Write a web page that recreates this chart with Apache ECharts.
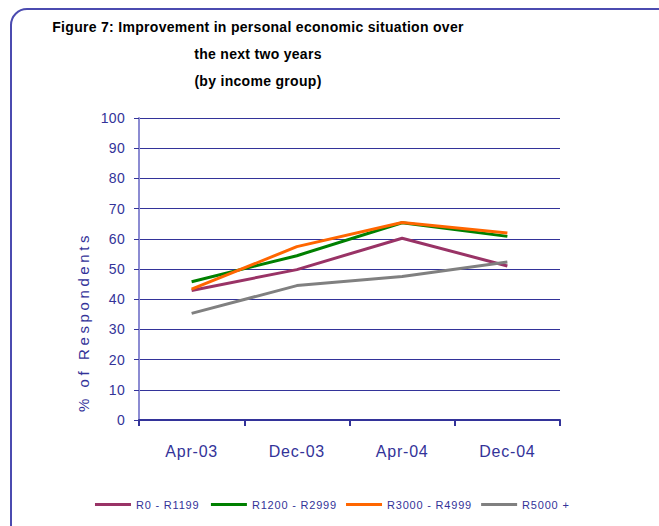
<!DOCTYPE html>
<html>
<head>
<meta charset="utf-8">
<script src="https://cdn.jsdelivr.net/npm/echarts@6/dist/echarts.min.js"></script>
<style>
  html, body { margin: 0; padding: 0; background: #fff; }
  #chart { width: 659px; height: 526px; }
  /* tracking per text size: axis name, category labels, value labels/title, legend */
  #chart text[style*="15px"] { letter-spacing: 3.6px; }
  #chart text[style*="16px"] { letter-spacing: 0.8px; }
  #chart text[style*="14px"] { letter-spacing: 0.3px; }
  #chart text[style*="11px"] { letter-spacing: 0.8px; }
</style>
</head>
<body>
<div id="chart"></div>
<script>
// Survey periods and share of respondents expecting improvement, by income group
const periods = ['Apr-03', 'Dec-03', 'Apr-04', 'Dec-04'];
const groupNames = ['R0 - R1199', 'R1200 - R2999', 'R3000 - R4999', 'R5000 +'];
const lowIncome = [42.9, 49.8, 60.2, 51.0];
const lowerMiddle = [45.8, 54.4, 65.3, 60.8];
const upperMiddle = [43.3, 57.4, 65.4, 61.9];
const highIncome = [35.3, 44.5, 47.5, 52.3];
const yTicks = [0, 10, 20, 30, 40, 50, 60, 70, 80, 90, 100];

const seriesValues = [lowIncome, lowerMiddle, upperMiddle, highIncome];
const seriesColors = ['#993366', '#008000', '#ff6600', '#808080'];
const ink = '#333399';
const font = '"Liberation Sans", Arial, sans-serif';

const chart = echarts.init(document.getElementById('chart'), null, { renderer: 'svg' });

chart.setOption({
  animation: false,
  backgroundColor: '#fff',
  graphic: [{
    type: 'rect',
    shape: { x: 11, y: 9, width: 720, height: 560, r: 16 },
    style: { fill: 'none', stroke: '#4b4bb0', lineWidth: 2 },
    z: -1
  }],
  title: {
    text: 'Figure 7: Improvement in personal economic situation over\nthe next two years\n(by income group)',
    left: 253,
    textAlign: 'center',
    top: 8,
    textStyle: {
      fontFamily: font,
      fontWeight: 'bold',
      fontSize: 14,
      color: '#000',
      lineHeight: 27
    }
  },
  legend: {
    bottom: 11,
    left: 'center',
    icon: 'rect',
    itemWidth: 36,
    itemHeight: 3,
    itemGap: 19.5,
    textStyle: { fontFamily: font, fontSize: 11, color: ink },
    data: groupNames
  },
  grid: { left: 139, right: 99, top: 118, bottom: 106 },
  xAxis: {
    type: 'category',
    data: periods,
    boundaryGap: true,
    axisLine: { lineStyle: { color: ink, width: 2 } },
    axisTick: { show: true, alignWithLabel: false, length: 6, lineStyle: { color: ink, width: 2 } },
    axisLabel: { fontFamily: font, fontSize: 16, color: ink, margin: 23 }
  },
  yAxis: {
    type: 'value',
    min: 0,
    max: 100,
    interval: 10,
    name: '% of Respondents',
    nameLocation: 'middle',
    nameGap: 40,
    nameRotate: 90,
    nameTextStyle: { fontFamily: font, fontSize: 15, color: ink, padding: [0, 106, 0, 0] },
    axisLine: { show: true, lineStyle: { color: '#8c8cd2', width: 2 } },
    axisTick: { show: true, length: 5, lineStyle: { color: ink } },
    splitLine: { lineStyle: { color: ink, width: 1 } },
    axisLabel: {
      fontFamily: font, fontSize: 14, color: ink, margin: 14,
      formatter: v => yTicks.includes(v) ? String(v) : ''
    }
  },
  series: seriesValues.map((vals, i) => ({
    name: groupNames[i],
    type: 'line',
    data: vals,
    symbol: 'none',
    lineStyle: { width: 3, color: seriesColors[i] },
    itemStyle: { color: seriesColors[i] }
  }))
});
</script>
</body>
</html>
